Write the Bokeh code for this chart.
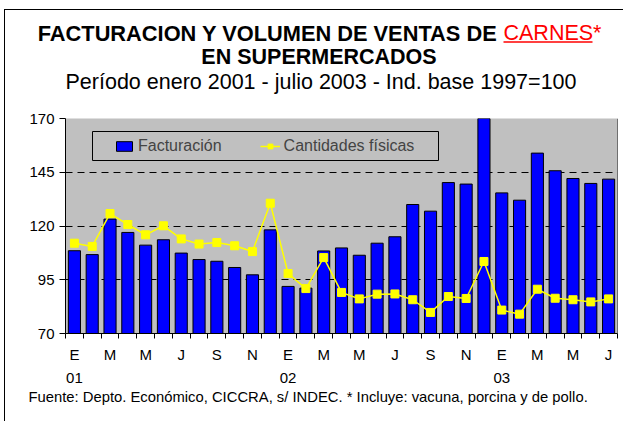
from bokeh.plotting import figure
from bokeh.layouts import column
from bokeh.models import (Range1d, FixedTicker, LinearAxis, Legend, LegendItem,
                          BoxAnnotation, Span, Grid)
from bokeh.core.properties import value
from bokeh.embed import file_html
from bokeh.resources import INLINE

# ---------------- data ----------------
month_initials = ["E", "F", "M", "A", "M", "J", "J", "A", "S", "O", "N", "D"]
years = ["01", "02", "03"]
months_per_year = [12, 12, 7]

facturacion = [108.5, 106.7, 123.2, 117.0, 111.1, 113.6, 107.4, 104.4, 103.6, 100.7,
               97.3, 118.2, 91.9, 91.1, 108.4, 109.8, 106.4, 112.0, 115.0, 130.0,
               126.9, 140.2, 139.5, 172.0, 135.4, 132.0, 153.9, 145.7, 142.1, 139.8,
               141.8]
cantidades = [112.0, 110.5, 125.8, 120.7, 115.9, 120.1, 114.0, 111.6, 112.3, 110.8,
              108.1, 130.6, 97.9, 90.9, 105.3, 89.1, 86.1, 88.3, 88.4, 85.7,
              79.8, 87.2, 86.3, 103.5, 80.9, 79.0, 90.6, 86.4, 85.7, 84.7,
              86.1]
y_ticks = [70, 95, 120, 145, 170]

series_names = ["Facturación", "Cantidades físicas"]
title_main = "FACTURACION Y VOLUMEN DE VENTAS DE"
title_red = "CARNES*"
title_line2 = "EN SUPERMERCADOS"
subtitle = "Período enero 2001 - julio 2003 - Ind. base 1997=100"
footer = "Fuente: Depto. Económico, CICCRA, s/ INDEC. * Incluye: vacuna, porcina y de pollo."

# ---------------- derived ----------------
n = len(facturacion)
x = list(range(1, n + 1))
month_labels = {}
year_labels = {}
k = 1
for yr, cnt in zip(years, months_per_year):
    for m in range(cnt):
        if m % 2 == 0:
            month_labels[k] = month_initials[m]
        if m == 0:
            year_labels[k] = yr
        k += 1

FONT = "Liberation Sans"
W = 618


def text_panel(height):
    f = figure(frame_width=W, frame_height=height, min_border=0, frame_align=False,
               x_range=Range1d(0, W), y_range=Range1d(height, 0),
               x_axis_type=None, y_axis_type=None,
               output_backend="svg", toolbar_location=None)
    f.outline_line_color = None
    f.background_fill_color = "white"
    f.border_fill_color = "white"
    f.xgrid.visible = False
    f.ygrid.visible = False
    return f


# ---------------- header ----------------
HH = 98
head = text_panel(HH)
head.text(x=[492], y=[22.5], text=[title_main], text_align="right",
          text_baseline="alphabetic", text_font=value(FONT),
          text_font_size=value("21.8px"), text_font_style="bold", text_color="black")
head.text(x=[498], y=[22.5], text=[title_red], text_align="left",
          text_baseline="alphabetic", text_font=value(FONT),
          text_font_size=value("21.5px"), text_color="#FF0000")
head.segment(x0=[498], y0=[31.5], x1=[587], y1=[31.5], line_color="#FF0000", line_width=1.6)
head.text(x=[313.5], y=[46], text=[title_line2], text_align="center",
          text_baseline="alphabetic", text_font=value(FONT),
          text_font_size=value("21.5px"), text_font_style="bold", text_color="black")
head.text(x=[315.5], y=[71], text=[subtitle], text_align="center",
          text_baseline="alphabetic", text_font=value(FONT),
          text_font_size=value("21.5px"), text_color="black")

# ---------------- main chart ----------------
p = figure(frame_width=552, frame_height=215, frame_align=False,
           min_border_left=60, min_border_right=6, min_border_top=10, min_border_bottom=55,
           x_range=Range1d(0.5, n + 0.5), y_range=Range1d(y_ticks[0], y_ticks[-1]),
           x_axis_type=None, y_axis_type=None,
           output_backend="svg", toolbar_location=None)
p.background_fill_color = "#C0C0C0"
p.border_fill_color = "white"
p.outline_line_color = None

yaxis = LinearAxis(ticker=FixedTicker(ticks=y_ticks),
                   major_tick_out=6, major_tick_in=0, minor_tick_out=0, minor_tick_in=0,
                   major_label_standoff=5, major_label_text_font=FONT,
                   major_label_text_font_size="15px", major_label_text_color="black",
                   axis_line_color="black", major_tick_line_color="black")
p.add_layout(yaxis, "left")
p.add_layout(Grid(dimension=1, ticker=yaxis.ticker, grid_line_color="black",
                  grid_line_dash="7 5", grid_line_width=1))

xaxis = LinearAxis(ticker=FixedTicker(ticks=list(month_labels.keys()),
                                      minor_ticks=[v + 0.5 for v in range(0, n + 1)]),
                   major_label_overrides=month_labels,
                   major_tick_out=0, major_tick_in=0, minor_tick_out=5, minor_tick_in=0,
                   minor_tick_line_color="black", axis_line_color="black",
                   major_label_standoff=7, major_label_text_font=FONT,
                   major_label_text_font_size="15px", major_label_text_color="black")
p.add_layout(xaxis, "below")
year_axis = LinearAxis(ticker=FixedTicker(ticks=list(year_labels.keys())),
                       major_label_overrides=year_labels,
                       major_tick_out=0, major_tick_in=0, minor_tick_out=0, minor_tick_in=0,
                       axis_line_color=None, major_label_standoff=7,
                       major_label_text_font=FONT, major_label_text_font_size="15px",
                       major_label_text_color="black")
p.add_layout(year_axis, "below")

p.add_layout(Span(location=n + 0.5, dimension="height", line_color="black", line_width=1))

bars = p.vbar(x=x, top=facturacion, bottom=y_ticks[0], width=0.68,
              fill_color="#0000FF", line_color="black", line_width=1)
ln = p.line(x=x, y=cantidades, line_color="#FFFF00", line_width=1.5)
sq = p.scatter(x=x, y=cantidades, marker="square", size=8,
               fill_color="#FFFF00", line_color="#FFFF00")

p.add_layout(BoxAnnotation(left=27, right=373, bottom=173, top=202,
                           left_units="screen", right_units="screen",
                           bottom_units="screen", top_units="screen",
                           fill_alpha=0, line_color="black", line_width=1, line_alpha=1))
legend = Legend(items=[LegendItem(label=series_names[0], renderers=[bars]),
                       LegendItem(label=series_names[1], renderers=[ln, sq])],
                orientation="horizontal", location=(49, 178),
                background_fill_alpha=0, border_line_color=None,
                label_text_font=FONT, label_text_font_size="16px",
                glyph_width=20, glyph_height=12, label_standoff=4, spacing=38,
                padding=0, margin=0)
p.add_layout(legend)

# ---------------- footer ----------------
FH = 33
foot = text_panel(FH)
foot.text(x=[23], y=[8.5], text=[footer], text_align="left",
          text_baseline="alphabetic", text_font=value(FONT),
          text_font_size=value("14.8px"), text_color="black")

layout = column(head, p, foot, spacing=0,
                styles={"position": "relative", "left": "4px", "top": "9px",
                        "border-left": "1px solid black", "border-top": "1px solid black"})
open("out.html", "w").write(file_html(layout, INLINE))
